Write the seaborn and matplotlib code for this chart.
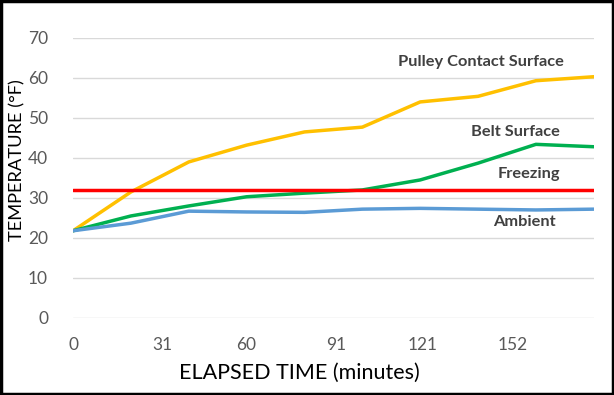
import pandas as pd
import matplotlib
matplotlib.use("Agg")
import matplotlib.pyplot as plt
import seaborn as sns
from matplotlib.patches import Rectangle

# Data
minutes = [0, 20, 40, 60, 80, 100, 120, 140, 160, 180]
pulley = [21.8, 31.5, 39.0, 43.2, 46.5, 47.7, 54.0, 55.4, 59.3, 60.3]
belt = [21.8, 25.5, 28.0, 30.3, 31.2, 32.0, 34.5, 38.7, 43.4, 42.8]
freezing = [32, 32, 32, 32, 32, 32, 32, 32, 32, 32]
ambient = [21.8, 23.7, 26.7, 26.5, 26.4, 27.2, 27.4, 27.2, 27.0, 27.2]

x_ticks = [0, 31, 60, 91, 121, 152]
y_ticks = [0, 10, 20, 30, 40, 50, 60, 70]

series = {
    "Pulley Contact Surface": pulley,
    "Belt Surface": belt,
    "Freezing": freezing,
    "Ambient": ambient,
}
colors = {
    "Pulley Contact Surface": "#FFC000",
    "Belt Surface": "#00B050",
    "Freezing": "#FF0000",
    "Ambient": "#5B9BD5",
}
# label anchor (x, y) in data units
label_pos = {
    "Pulley Contact Surface": (141, 64),
    "Belt Surface": (153, 46.5),
    "Freezing": (157.5, 36),
    "Ambient": (156, 24),
}

df = pd.concat(
    [pd.DataFrame({"minutes": minutes, "temp": v, "series": k}) for k, v in series.items()]
)

sns.set_theme(style="white")
plt.rcParams["font.family"] = ["Lato", "DejaVu Sans"]

fig = plt.figure(figsize=(6.14, 3.95), dpi=100)
ax = fig.add_axes([0.119, 0.195, 0.848, 0.709])

# gridlines behind
for y in y_ticks:
    ax.axhline(y, color="#D9D9D9", linewidth=1, zorder=0)

sns.lineplot(
    data=df,
    x="minutes",
    y="temp",
    hue="series",
    palette=colors,
    linewidth=2.5,
    legend=False,
    ax=ax,
    zorder=2,
)

for name, (lx, ly) in label_pos.items():
    ax.text(lx, ly, name, ha="center", va="center", fontsize=11.8,
            fontweight="bold", color="#404040")

ax.set_xlim(0, 180)
ax.set_ylim(0, 70)
ax.set_xticks(x_ticks)
ax.set_yticks(y_ticks)
ax.tick_params(axis="y", length=0, labelsize=12.5, labelcolor="#595959", pad=18)
ax.tick_params(axis="x", length=0, labelsize=12.5, labelcolor="#595959", pad=14)
for s in ax.spines.values():
    s.set_visible(False)

ax.set_xlabel("ELAPSED TIME (minutes)", fontsize=15.5, color="black")
ax.xaxis.set_label_coords(0.434, -0.196)
ax.xaxis.label.set_verticalalignment("center")
ax.set_ylabel("TEMPERATURE (°F)", fontsize=13.2, color="black")
ax.yaxis.set_label_coords(-0.107, 0.564)
ax.yaxis.label.set_verticalalignment("center")

# black frame around the whole picture
fig.patches.append(Rectangle((0.002, 0.003), 0.996, 0.994, transform=fig.transFigure,
                             fill=False, edgecolor="black", linewidth=2.5))

fig.savefig("out.png", dpi=100)
